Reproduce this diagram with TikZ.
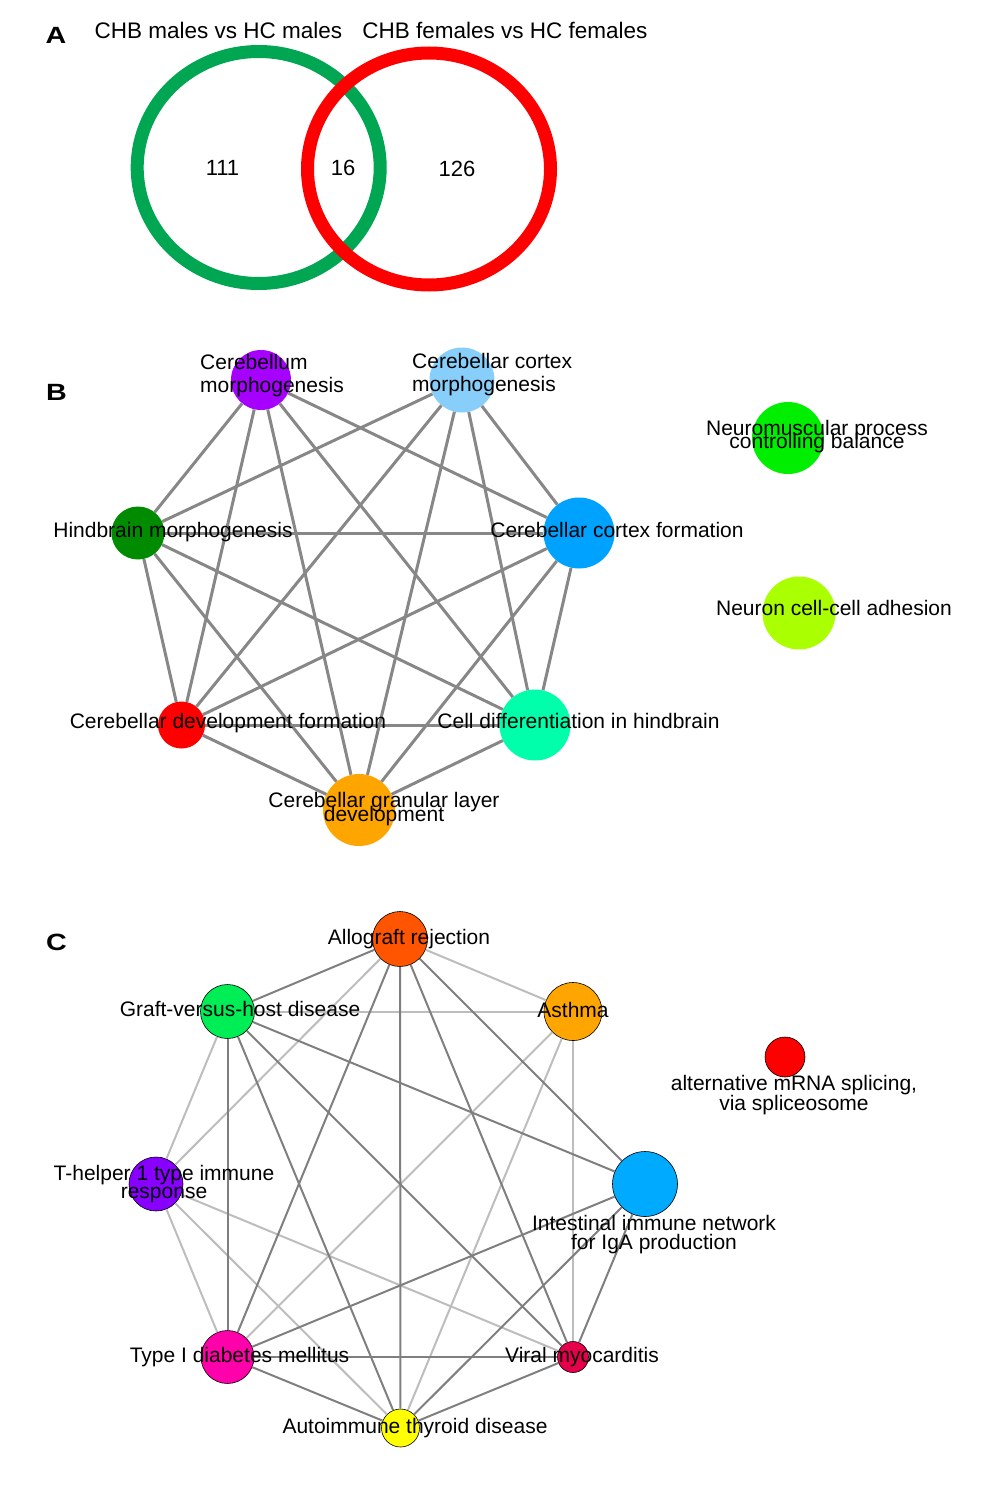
\documentclass[tikz,border=0pt]{standalone}
\usepackage{fontspec}
\setmainfont{Liberation Sans}
\usepackage{graphicx}
\usepackage{tikz}
\usetikzlibrary{shapes.geometric}
\definecolor{VGreen}{HTML}{00A651}
\definecolor{VRed}{HTML}{FF0000}
\definecolor{EdgeGray}{HTML}{878787}
\definecolor{EdgeDark}{HTML}{7F7F7F}
\definecolor{EdgeLight}{HTML}{BDBDBD}
\definecolor{BPurple}{HTML}{A600FF}
\definecolor{BSky}{HTML}{87CEFA}
\definecolor{BForest}{HTML}{008B00}
\definecolor{BBlue}{HTML}{00A2FF}
\definecolor{BRed}{HTML}{FF0000}
\definecolor{BMint}{HTML}{00FFAA}
\definecolor{BOrange}{HTML}{FFA500}
\definecolor{BLime}{HTML}{00EE00}
\definecolor{BChart}{HTML}{AAFF00}
\definecolor{CBlood}{HTML}{FF5500}
\definecolor{CGreen}{HTML}{00EE55}
\definecolor{COrange}{HTML}{FFA500}
\definecolor{CViolet}{HTML}{8800FF}
\definecolor{CAzure}{HTML}{00AAFF}
\definecolor{CMagenta}{HTML}{FF00AA}
\definecolor{CCrimson}{HTML}{E6004C}
\definecolor{CYellow}{HTML}{FFFF00}
\definecolor{CRed}{HTML}{FF0000}
\newcommand{\panelmark}[1]{\scalebox{1.22}[1]{#1}}
\tikzset{
 lbl/.style={font=\fontsize{21}{25.2}\selectfont,inner sep=0pt,anchor=base},
 mlbl/.style={lbl,anchor=center,align=center},
 ttl/.style={lbl,font=\fontsize{22.5}{27}\selectfont},
 num/.style={lbl,font=\fontsize{22}{26}\selectfont},
 panel/.style={lbl,font=\fontsize{23.5}{27}\selectfont\bfseries},
 vset/.style={ellipse,line width=13pt,minimum width=243pt,minimum height=232pt,inner sep=0pt},
 bnode/.style={circle,inner sep=0pt},
 cnode/.style={circle,inner sep=0pt,draw=black,line width=0.6pt},
 bedge/.style={draw=EdgeGray,line width=3pt},
 cdark/.style={draw=EdgeDark,line width=2pt},
 clight/.style={draw=EdgeLight,line width=2pt}
}

\begin{document}
\begin{tikzpicture}[x=1pt,y=-1pt]
\useasboundingbox (0,0) rectangle (994,1485);
% A
\node[panel] (pa) at (56,43.3) {\panelmark{A}};
\node[ttl] (tm) at (218.4,38.5) {CHB males vs HC males};
\node[ttl] (tf) at (505,38.5) {CHB females vs HC females};
\node[vset,draw=VGreen] (males) at (258.7,167.5) {};
\node[vset,draw=VRed] (females) at (429,169) {};
\node[num] (n1) at (222.5,175) {111};
\node[num] (n2) at (343,175.5) {16};
\node[num] (n3) at (457,176) {126};
% B
\node[panel] (pb) at (56.5,400) {\panelmark{B}};
\node[bnode,fill=BPurple,minimum size=60pt] (cbm) at (261,380) {};
\node[bnode,fill=BSky,minimum size=65pt] (ccm) at (462,380) {};
\node[bnode,fill=BForest,minimum size=53pt] (hbm) at (138,533) {};
\node[bnode,fill=BBlue,minimum size=71pt] (ccf) at (579,533) {};
\node[bnode,fill=BRed,minimum size=47pt] (cdf) at (181.5,725) {};
\node[bnode,fill=BMint,minimum size=71pt] (cdh) at (535,725) {};
\node[bnode,fill=BOrange,minimum size=72pt] (cgl) at (359,810) {};
\node[bnode,fill=BLime,minimum size=72pt] (npb) at (788,438) {};
\node[bnode,fill=BChart,minimum size=73pt] (nca) at (799,613) {};
\draw[bedge] (cbm)--(hbm);\draw[bedge] (cbm)--(cdf);\draw[bedge] (cbm)--(cgl);\draw[bedge] (cbm)--(cdh);\draw[bedge] (cbm)--(ccf);
\draw[bedge] (ccm)--(hbm);\draw[bedge] (ccm)--(cdf);\draw[bedge] (ccm)--(cgl);\draw[bedge] (ccm)--(cdh);\draw[bedge] (ccm)--(ccf);
\draw[bedge] (hbm)--(ccf);\draw[bedge] (hbm)--(cdf);\draw[bedge] (hbm)--(cgl);\draw[bedge] (hbm)--(cdh);
\draw[bedge] (ccf)--(cdf);\draw[bedge] (ccf)--(cgl);\draw[bedge] (ccf)--(cdh);
\draw[bedge] (cdf)--(cdh);\draw[bedge] (cdf)--(cgl);\draw[bedge] (cdh)--(cgl);
\node[mlbl,align=left,anchor=west] (cbm-t) at (200,376) {Cerebellum\\[-2.2pt]morphogenesis};
\node[mlbl,align=left,anchor=west] (ccm-t) at (412,375) {Cerebellar cortex\\[-2.2pt]morphogenesis};
\node[lbl] (hbm-t) at (173,537.5) {Hindbrain morphogenesis};
\node[lbl] (ccf-t) at (617,537.5) {Cerebellar cortex formation};
\node[lbl] (cdf-t) at (228,728.5) {Cerebellar development formation};
\node[lbl] (cdh-t) at (578.5,728.5) {Cell differentiation in hindbrain};
\node[mlbl] (cgl-t) at (384,809) {Cerebellar granular layer\\[-11.2pt]development};
\node[mlbl] (npb-t) at (817,437) {Neuromuscular process\\[-12.2pt]controlling balance};
\node[lbl] (nca-t) at (834,615.5) {Neuron cell-cell adhesion};
% C
\node[panel] (pc) at (56.5,950) {\panelmark{C}};
\node[cnode,fill=CBlood,minimum size=55pt] (alr) at (400,939) {};
\node[cnode,fill=CGreen,minimum size=54pt] (gvh) at (227.5,1011.5) {};
\node[cnode,fill=COrange,minimum size=58pt] (ast) at (573,1011.5) {};
\node[cnode,fill=CViolet,minimum size=54pt] (th1) at (156,1184) {};
\node[cnode,fill=CAzure,minimum size=65pt] (iga) at (645,1184) {};
\node[cnode,fill=CMagenta,minimum size=53pt] (t1d) at (227.5,1357) {};
\node[cnode,fill=CCrimson,minimum size=31pt] (vmy) at (573,1357) {};
\node[cnode,fill=CYellow,minimum size=38pt] (aitd) at (400.5,1428) {};
\node[cnode,fill=CRed,minimum size=40pt] (ams) at (785,1057) {};
\draw[clight] (alr)--(ast);\draw[clight] (alr)--(th1);\draw[clight] (gvh)--(ast);\draw[clight] (gvh)--(th1);
\draw[clight] (ast)--(t1d);\draw[clight] (ast)--(aitd);\draw[clight] (ast)--(vmy);
\draw[clight] (th1)--(t1d);\draw[clight] (th1)--(aitd);\draw[clight] (th1)--(vmy);
\draw[cdark] (alr)--(gvh);\draw[cdark] (alr)--(t1d);\draw[cdark] (alr)--(aitd);\draw[cdark] (alr)--(vmy);\draw[cdark] (alr)--(iga);
\draw[cdark] (gvh)--(t1d);\draw[cdark] (gvh)--(aitd);\draw[cdark] (gvh)--(vmy);\draw[cdark] (gvh)--(iga);
\draw[cdark] (iga)--(t1d);\draw[cdark] (iga)--(aitd);\draw[cdark] (iga)--(vmy);
\draw[cdark] (t1d)--(vmy);\draw[cdark] (t1d)--(aitd);\draw[cdark] (vmy)--(aitd);
\node[lbl] (alr-t) at (409,944.5) {Allograft rejection};
\node[lbl] (gvh-t) at (240,1016.5) {Graft-versus-host disease};
\node[lbl] (ast-t) at (573,1017) {Asthma};
\node[mlbl] (th1-t) at (164,1184) {T-helper 1 type immune\\[-7.2pt]response};
\node[mlbl] (iga-t) at (654,1235) {Intestinal immune network\\[-6.2pt]for IgA production};
\node[lbl] (t1d-t) at (239.5,1362) {Type I diabetes mellitus};
\node[lbl] (vmy-t) at (582,1362) {Viral myocarditis};
\node[lbl] (aitd-t) at (415,1433.5) {Autoimmune thyroid disease};
\node[mlbl] (ams-t) at (794,1095) {alternative mRNA splicing,\\[-5.2pt]via spliceosome};
\end{tikzpicture}
\end{document}
